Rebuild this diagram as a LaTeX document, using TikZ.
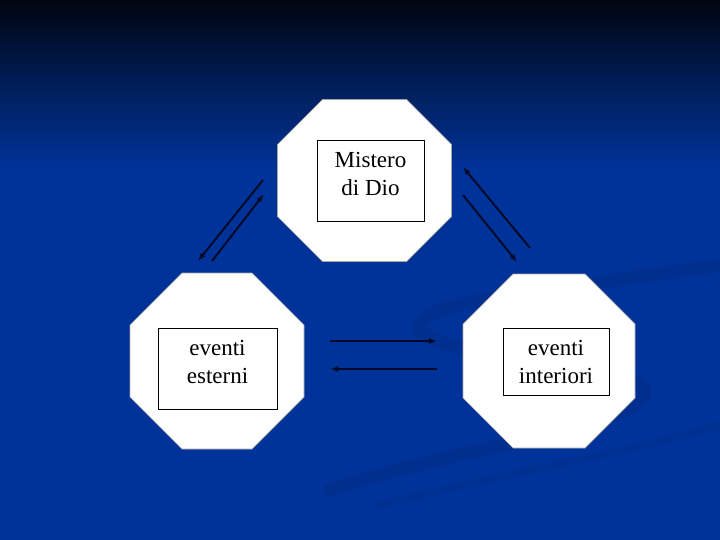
\documentclass[tikz,border=0pt]{standalone}
\usepackage{fontspec}
\setmainfont{Liberation Serif}
\usepackage{tikz}
\usetikzlibrary{arrows.meta}

\definecolor{slideblue}{RGB}{0,51,153}
\definecolor{slidemid}{RGB}{0,28,85}
\definecolor{slidetop}{RGB}{0,5,15}
\definecolor{swirl}{RGB}{0,42,130}
\definecolor{arrowink}{RGB}{5,10,40}

\tikzset{
  octa/.style={fill=white, draw=gray!70, line width=0.7pt},
  textbox/.style={draw=black, line width=0.6pt, fill=white, inner sep=0pt},
  label/.style={align=center, font=\fontsize{23}{28}\selectfont, inner sep=0pt},
  link/.style={draw=arrowink, line width=2pt, -{Latex[length=8pt,width=6pt]}}
}

\begin{document}
\begin{tikzpicture}[x=1pt, y=-1pt]
\useasboundingbox (0,0) rectangle (720,540);

% background
\shade[top color=slidetop, bottom color=slidemid] (0,0) rectangle (720,80);
\shade[top color=slidemid, bottom color=slideblue] (0,80) rectangle (720,170);
\fill[slideblue] (0,170) rectangle (720,540);

% faint swirl
\draw[swirl, line width=14pt, opacity=0.35, line cap=round]
  (720,265) .. controls (560,290) and (410,300) .. (420,330)
            .. controls (430,360) and (680,360) .. (640,400)
            .. controls (610,430) and (450,450) .. (330,490);
\draw[swirl, line width=8pt, opacity=0.3, line cap=round]
  (720,425) .. controls (640,450) and (520,470) .. (380,505);

% octagons: centre x, centre y, half width, half height, cut
\foreach \cx/\cy/\hw/\hh/\c in {364.5/180.5/87/81/45, 217/361/87/88/52, 549/361/86/87/50}
  \filldraw[octa]
    (\cx-\hw+\c,\cy-\hh) -- (\cx+\hw-\c,\cy-\hh) -- (\cx+\hw,\cy-\hh+\c)
    -- (\cx+\hw,\cy+\hh-\c) -- (\cx+\hw-\c,\cy+\hh) -- (\cx-\hw+\c,\cy+\hh)
    -- (\cx-\hw,\cy+\hh-\c) -- (\cx-\hw,\cy-\hh+\c) -- cycle;

% inner boxes
\node[textbox, minimum width=107pt, minimum height=81pt] (dioBox) at (370.5,180.5) {};
\node[textbox, minimum width=119pt, minimum height=81pt] (estBox) at (217.5,368.5) {};
\node[textbox, minimum width=106pt, minimum height=67pt] (intBox) at (556,361.5) {};

\node[label] (dio) at (370.5,174) {Mistero\\di Dio};
\node[label] (est) at (217.5,362) {eventi\\esterni};
\node[label] (int) at (556,362) {eventi\\interiori};

% arrow ends
\coordinate (a1) at (263,180);
\coordinate (a2) at (198,261);
\coordinate (b1) at (212,261);
\coordinate (b2) at (264,194);
\coordinate (c1) at (530,248);
\coordinate (c2) at (463,167);
\coordinate (d1) at (463,195);
\coordinate (d2) at (517,262);
\coordinate (e1) at (330,341);
\coordinate (e2) at (437,341);
\coordinate (f1) at (437,369);
\coordinate (f2) at (330,369);

\draw[link] (a1) -- (a2);
\draw[link] (b1) -- (b2);
\draw[link] (c1) -- (c2);
\draw[link] (d1) -- (d2);
\draw[link] (e1) -- (e2);
\draw[link] (f1) -- (f2);
\end{tikzpicture}
\end{document}
